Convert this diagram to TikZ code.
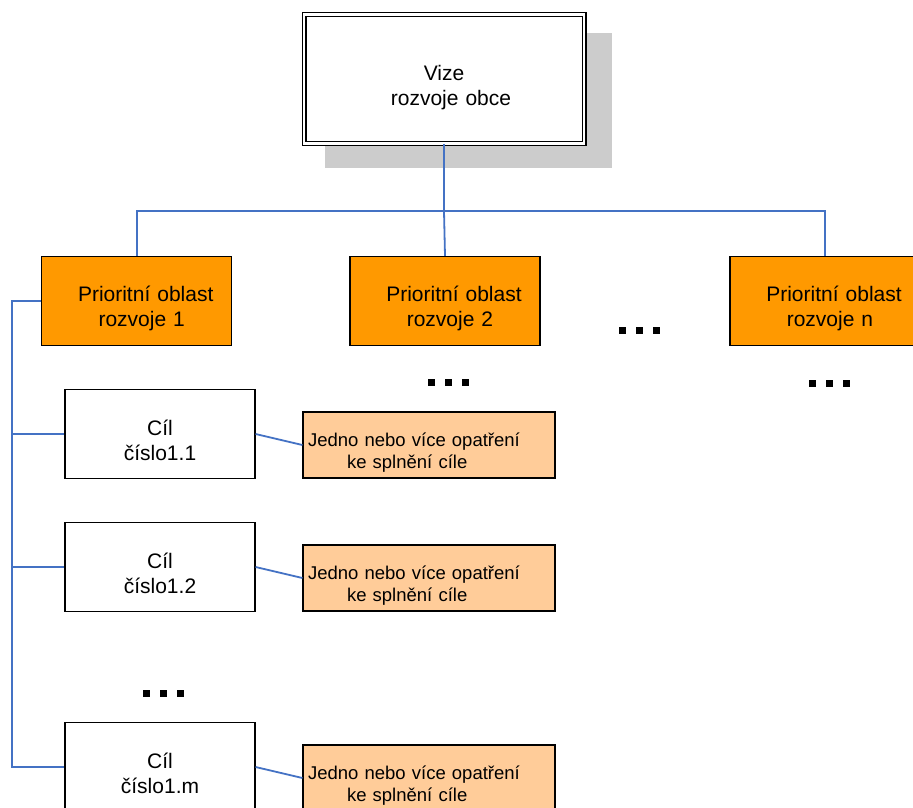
\documentclass[tikz,border=0pt]{standalone}
\usepackage{fontspec}
\setmainfont{Liberation Sans}
\usepackage{tikz}

\definecolor{oranzova}{HTML}{FF9900}
\definecolor{svetleoranzova}{HTML}{FFCC99}
\definecolor{modra}{HTML}{4472C4}
\definecolor{stin}{HTML}{CCCCCC}

\begin{document}
\begin{tikzpicture}[
    x=1pt, y=-1pt,
    every node/.style={draw, line width=1.2pt, inner sep=0pt, align=center,
      font=\fontsize{21}{25.5}\selectfont},
    podpera/.style={execute at begin node={\rule{0pt}{#1}}},
    vize/.style={double, double distance=2.6pt, fill=white,
      minimum width=280, minimum height=129, text width=270, podpera=32pt},
    oblast/.style={fill=oranzova, minimum width=190, minimum height=89,
      text width=180, podpera=30pt},
    cil/.style={fill=white, minimum width=190, minimum height=89,
      text width=180, podpera=28pt},
    opatreni/.style={fill=svetleoranzova, minimum width=252, minimum height=66,
      text width=242, align=left, font=\fontsize{18.5}{22}\selectfont,
      podpera=28pt},
    spoj/.style={modra, line width=1.8pt}
  ]

  \useasboundingbox (0,0) rectangle (913,807);

  % Vision with its shadow
  \fill[stin] (325,33) rectangle (612,168);
  \node[vize] (vize) at (444,79) {Vize\\ \hspace*{14pt}rozvoje obce};

  % Priority areas
  \node[oblast] (obl1) at (136.7,301) {\hspace*{18pt}Prioritní oblast\\ \hspace*{10pt}rozvoje 1};
  \node[oblast] (obl2) at (445,301) {\hspace*{18pt}Prioritní oblast\\ \hspace*{10pt}rozvoje 2};
  \node[oblast] (oblN) at (825,301) {\hspace*{18pt}Prioritní oblast\\ \hspace*{10pt}rozvoje n};

  % Goals of area 1
  \node[cil] (cil1) at (160,434) {Cíl\\ číslo1.1};
  \node[cil] (cil2) at (160,567) {Cíl\\ číslo1.2};
  \node[cil] (cilm) at (160,767) {Cíl\\ číslo1.m};

  % Measures
  \node[opatreni] (op1) at (429,445) {Jedno nebo více opatření\\ \hspace*{39pt}ke splnění cíle};
  \node[opatreni] (op2) at (429,578) {Jedno nebo více opatření\\ \hspace*{39pt}ke splnění cíle};
  \node[opatreni] (opm) at (429,778) {Jedno nebo více opatření\\ \hspace*{39pt}ke splnění cíle};

  % Connectors from the vision
  \coordinate (rozbocka) at (444,211);
  \draw[spoj] (vize.south) -- (rozbocka);
  \draw[spoj] (obl1.north) |- (rozbocka) -| (oblN.north);
  \draw[spoj] (rozbocka) -- (obl2.north);

  % Trunk to the goals
  \coordinate (kmen) at (12,301);
  \draw[spoj] (obl1.west) -- (kmen) -- (kmen |- cilm.west) -- (cilm.west);
  \draw[spoj] (kmen |- cil1.west) -- (cil1.west);
  \draw[spoj] (kmen |- cil2.west) -- (cil2.west);

  % Goals to measures
  \draw[spoj] (cil1.east) -- (op1.west);
  \draw[spoj] (cil2.east) -- (op2.west);
  \draw[spoj] (cilm.east) -- (opm.west);

  % Dots
  \foreach \x/\y in {639/330, 448/382, 829/383, 163/693}
    \foreach \d in {-17,0,17}
      \fill (\x+\d-3.5,\y-3.5) rectangle ++(7,7);

\end{tikzpicture}
\end{document}
